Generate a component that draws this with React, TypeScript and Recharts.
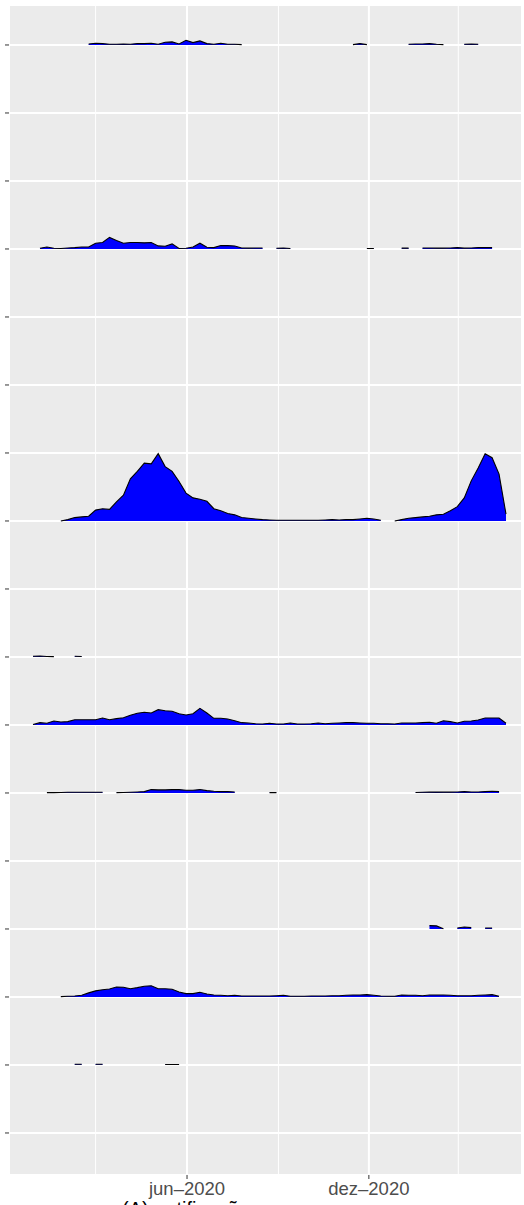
import { ComposedChart, Area, XAxis, YAxis, CartesianGrid } from "recharts";

const _ = null;
const NA = (n: number) => Array(n).fill(null);

// weekly series, week 0 starts on 2019-12-29; values: 100 = one row of height
const weeks = Array.from({ length: 69 }, (_v, i) => i);

const row16 = [...NA(8), 1.5, 2.5, 2, 1, 1, 1.5, 1, 2, 2, 2.5, 1, 4, 4.5, 1.5, 7, 3.5, 6, 2, 1, 2.5, 1, 1, 0.5,
  ...NA(15), 0.5, 2, 0.5, ...NA(5), 1, 1.5, 1.5, 2, 1, 0.5, ...NA(2), 1, 1.5, 1, ...NA(4)];

const row13 = [_, 1, 3, 1, 0.7, 1.5, 2, 3, 3, 8.5, 9.5, 17, 12.5, 8.5, 9.5, 9.5, 9, 9.5, 4.5, 4, 7.5, 0.7, 1, 3, 8.5,
  2.5, 2, 5, 5, 4.5, 1.5, 1.2, 1.5, 1.5, _, 1, 1.5, 0.7, ...NA(10), 0.7, 0.7, ...NA(3), 1.2, 1.2, _,
  1.5, 1.5, 1.2, 1.2, 1.5, 2, 1.2, 1.5, 2, 2, 2, _, _];

const row9 = [...NA(4), 0, 2, 5, 6, 7, 16, 18, 17, 28, 38, 62, 73, 85, 84, 99, 80, 73, 58, 41, 34, 32, 29, 18, 15,
  11, 9, 5, 4, 3, 2, 1.5, 1, 1, 1, 1, 1, 1, 1, 1.5, 2, 1.5, 2, 2, 3, 4, 3, 1, _,
  0, 2, 4, 5, 6, 7, 9, 10, 15, 21, 34, 59, 78, 99, 93, 69, 10];

const row7 = [1, 1.5, 0.7, 0.5, _, _, 1, 0.7, ...NA(61)];

const row6 = [0.7, 3.4, 2.5, 5.9, 4.4, 4.9, 7.8, 7.8, 7.8, 7.8,
  10.3, 7.8, 9.3, 10.7, 14.3, 17.2, 18.7, 17.6, 22.5, 21,
  20.1, 16.6, 14.7, 16.6, 24.5, 17.6, 9.8, 9.8, 8.8, 6.3,
  3.4, 2.9, 1.9, 1.5, 2.5, 1.5, 1.5, 2.9, 1.5, 1.5,
  1.9, 2.9, 1.9, 2.5, 2.9, 3.4, 3.4, 2.9, 2.5, 2.5,
  1.9, 1.9, 1.5, 2.9, 2.9, 2.9, 3.4, 4, 2.5, 6.3,
  4.9, 2.9, 5.4, 5.9, 7.4, 10.3, 10.3, 10.3, 2.5];

const row5 = [_, _, 0.5, 0.5, 0.7, 1, 1, 1, 1, 1, 1, _, 0.5, 0.7, 1, 1.5, 2, 5, 4.5, 4.5, 5, 5, 4, 4, 5, 3.5, 2.5, 2, 2, 1.5,
  ...NA(4), 0.5, 0.5, ...NA(19), 0.7, 1, 1.2, 1.5, 1.2, 1.2, 1.5, 2, 1.5, 1.5, 2, 2.5, 2, _];

const row3 = [...NA(57), 5, 4.5, 0.5, _, 1.5, 3, 2, _, 1.5, 1.5, _, _];

const row2 = [...NA(4), 0.5, 1, 1.5, 2.5, 6, 9, 10.7, 11.8, 14.7, 14.3,
  12.2, 13.7, 15.7, 16.6, 12.2, 12.2, 11.3, 7.4, 4.9, 4.9,
  6.9, 4.4, 2.9, 2.5, 1.9, 2.5, 1.5, 1.5, 1.5, 1.5,
  1.5, 1.9, 2.5, 1, 1, 1, 1.5, 1.5, 1.5, 1.9,
  1.9, 2.5, 2.9, 2.9, 3.4, 2.5, 1.5, 1, 1, 2.9,
  2.5, 2.5, 1.9, 2.9, 2.9, 2.9, 2.5, 1.9, 1.9, 1.9,
  2.5, 2.9, 3.4, 1, _];

const row1 = [...NA(6), 1, 1, _, 1, 1, ...NA(8), 0.7, 0.7, 0.7, ...NA(47)];

const rows: [number, (number | null)[]][] = [
  [16, row16], [13, row13], [9, row9], [7, row7], [6, row6],
  [5, row5], [3, row3], [2, row2], [1, row1],
];

const rowTicks = Array.from({ length: 17 }, (_v, i) => i);

const WEEK0 = Date.UTC(2019, 11, 29);
const weekPos = (y: number, m: number) => (Date.UTC(y, m, 1) - WEEK0) / (7 * 86400000);

const majorLabels = ["jun–2020", "dez–2020"];
const majorTicks = [weekPos(2020, 5), weekPos(2020, 11)];
const minorTicks = [weekPos(2020, 2), weekPos(2020, 8), weekPos(2021, 2)];

const data = weeks.map((w) => {
  const d: Record<string, number | null> = { w };
  rows.forEach(([r, vals]) => {
    const v = vals[w];
    d[`r${r}`] = v == null ? null : r + v / 100;
  });
  return d;
});

const font = "'Liberation Sans', Arial, sans-serif";

export default function App() {
  return (
    <div style={{ position: "relative", width: 524, height: 1205, overflow: "hidden", background: "#fff" }}>
      <style>{`body{margin:0}`}</style>
      <ComposedChart
        width={524}
        height={1205}
        data={data}
        margin={{ top: 5, right: 2, bottom: 0, left: 0 }}
        style={{ fontFamily: font }}
      >
        <CartesianGrid xAxisId="minor" horizontal={false} fill="#EBEBEB" stroke="#FFFFFF" strokeWidth={1} />
        <CartesianGrid stroke="#FFFFFF" strokeWidth={2} />
        <XAxis
          xAxisId="minor"
          dataKey="w"
          type="number"
          domain={[-3.45, 70.3]}
          ticks={minorTicks}
          allowDataOverflow
          hide
        />
        <XAxis
          dataKey="w"
          type="number"
          domain={[-3.45, 70.3]}
          ticks={majorTicks}
          tickFormatter={(v: number) => majorLabels[majorTicks.indexOf(v)] ?? ""}
          allowDataOverflow
          height={30}
          axisLine={false}
          tickSize={4}
          tickMargin={3}
          tickLine={{ stroke: "#333333" }}
          tick={{ fill: "#4D4D4D", fontSize: 18.5, fontFamily: font }}
        />
        <YAxis
          type="number"
          domain={[-0.618, 16.588]}
          ticks={rowTicks}
          allowDataOverflow
          width={9}
          axisLine={false}
          tickSize={4}
          tickLine={{ stroke: "#333333" }}
          tickFormatter={() => ""}
        />
        {rows.map(([r]) => (
          <Area
            key={r}
            type="linear"
            dataKey={`r${r}`}
            baseValue={r}
            stroke="#000000"
            strokeWidth={1.1}
            fill="#0000FF"
            fillOpacity={1}
            dot={false}
            activeDot={false}
            isAnimationActive={false}
          />
        ))}
      </ComposedChart>
      <div
        style={{
          position: "absolute",
          left: 122,
          top: 1199,
          fontFamily: font,
          fontSize: 20,
          lineHeight: "20px",
          color: "#000",
          whiteSpace: "nowrap",
        }}
      >
        (A) notificações
      </div>
    </div>
  );
}
